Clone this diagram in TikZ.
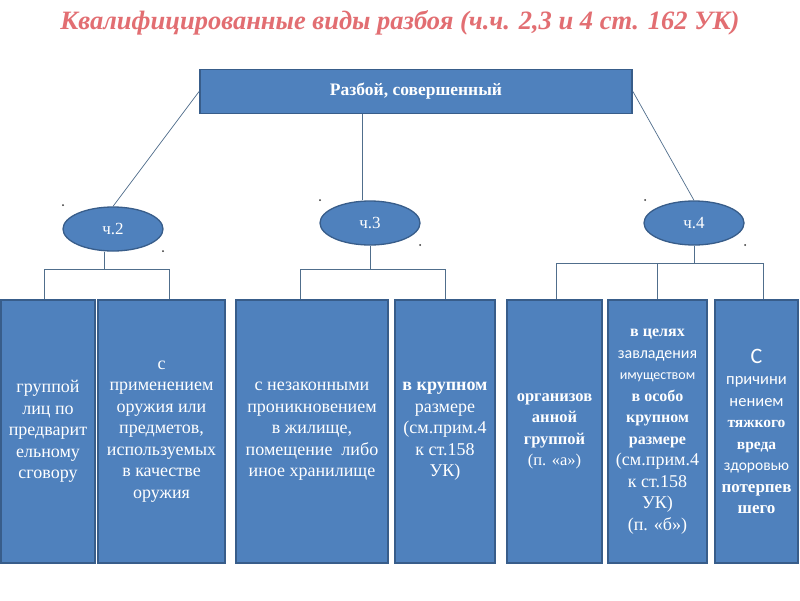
\documentclass[tikz,border=0pt]{standalone}
\usepackage{fontspec}
\setmainfont{Liberation Serif}
\newfontfamily\calfont{Carlito}
\usetikzlibrary{shapes.geometric}
\definecolor{boxfill}{RGB}{79,129,189}
\definecolor{boxline}{RGB}{56,93,138}
\definecolor{wire}{RGB}{80,110,140}
\definecolor{titlered}{RGB}{226,110,114}
\newcommand{\lightline}[2]{{\calfont\fontsize{#1}{21.5}\selectfont #2}}
\newcommand{\boldline}[2]{{\fontsize{#1}{21.5}\selectfont\bfseries #2}}
\begin{document}
\begin{tikzpicture}[x=1pt, y=-1pt,
  box/.style={rectangle, draw=boxline, line width=1.8pt, fill=boxfill, text=white, align=center, inner sep=0pt, minimum height=263pt, font=\fontsize{18}{21.5}\selectfont},
  part/.style={ellipse, draw=boxline, line width=1.3pt, fill=boxfill, text=white, inner sep=0pt, minimum width=100pt, minimum height=44pt, font=\fontsize{17}{18}\selectfont},
  wire/.style={draw=wire, line width=0.7pt},
  dot/.style={circle, fill=black!80, inner sep=0pt, minimum size=2pt}]
\useasboundingbox[fill=white] (0,0) rectangle (800,600);
\node[font=\fontsize{26.5}{28}\selectfont\bfseries\itshape, text=titlered] (title) at (400,23) {Квалифицированные виды разбоя (ч.ч. 2,3 и 4 ст. 162 УК)};
\node[rectangle, draw=boxline, line width=1.8pt, fill=boxfill, text=white, minimum width=432pt, minimum height=44pt, font=\fontsize{17.5}{18}\selectfont\bfseries] (top) at (416,91.5) {Разбой, совершенный};
\node[part] (ch2) at (113,229) {ч.2};
\node[part] (ch3) at (370,223) {ч.3};
\node[part] (ch4) at (694,223) {ч.4};
\node[dot] (d2a) at (63,205){};
\node[dot] (d2b) at (163,251){};
\node[dot] (d3a) at (320,200){};
\node[dot] (d3b) at (420,245){};
\node[dot] (d4a) at (645,200){};
\node[dot] (d4b) at (745,245){};
\draw[wire] (top.west) -- (ch2.north);
\draw[wire] ([xshift=-8pt]ch3.north |- top.south) -- ([xshift=-8pt]ch3.north);
\draw[wire] (top.east) -- (ch4.north);

\node[box, minimum width=94pt] (b1) at (48,431.5) {группой\\лиц по\\предварит\\ельному\\сговору};
\node[box, minimum width=127pt] (b2) at (161.5,431.5) {с\\применением\\оружия или\\предметов,\\используемых\\в качестве\\оружия};
\node[box, minimum width=152pt] (b3) at (312,431.5) {с незаконными\\проникновением\\в жилище,\\помещение \ либо\\иное хранилище};
\node[box, minimum width=100pt] (b4) at (445,431.5) {\textbf{в крупном}\\размере\\(см.прим.4\\к ст.158\\УК)};
\node[box, minimum width=95pt, font=\fontsize{16.5}{21.5}\selectfont] (b5) at (554.5,431.5) {\textbf{организов}\\\textbf{анной}\\\textbf{группой}\\(п. «а»)};
\node[box, minimum width=99pt] (b6) at (657.5,431.5) {\boldline{16}{в целях}\\\lightline{16}{завладения}\\\lightline{14}{имуществом}\\\boldline{16}{в особо}\\\boldline{16}{крупном}\\\boldline{16}{размере}\\(см.прим.4\\к ст.158\\УК)\\(п. «б»)};
\node[box, minimum width=83pt] (b7) at (756.5,431.5) {\lightline{22}{С}\\\lightline{16.5}{причини}\\\lightline{16.5}{нением}\\\boldline{15.5}{тяжкого}\\\boldline{15.5}{вреда}\\\lightline{15.5}{здоровью}\\\boldline{17}{потерпев}\\\boldline{17}{шего}};

\draw[wire] ([xshift=-9pt]ch2.south) -- ++(0,18) coordinate (j2);
\draw[wire] ([xshift=-4pt]b1.north) |- (j2) -| ([xshift=7.5pt]b2.north);
\draw[wire] (ch3.south) -- ++(0,24) coordinate (j3);
\draw[wire] ([xshift=-12pt]b3.north) |- (j3) -| (b4.north);
\draw[wire] (ch4.south) -- ++(0,18) coordinate (j4);
\draw[wire] ([xshift=1.5pt]b5.north) |- (j4) -| ([xshift=6.5pt]b7.north);
\draw[wire] (b6.north) -- (b6.north |- j4);

\end{tikzpicture}
\end{document}
